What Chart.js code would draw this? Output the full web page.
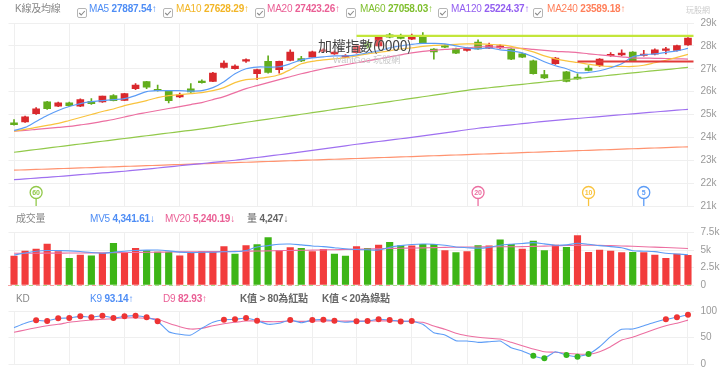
<!DOCTYPE html>
<html><head><meta charset="utf-8">
<script src="https://cdn.jsdelivr.net/npm/chart.js@4.4.1/dist/chart.umd.min.js"></script>
<style>
html,body{margin:0;padding:0;background:#fff}
body{width:720px;height:379px;position:relative;overflow:hidden;font-family:"Liberation Sans",Arial,"Noto Sans CJK TC",sans-serif}
canvas{position:absolute;left:0}
.t{position:absolute;font-size:10px;line-height:12px;white-space:nowrap;color:#888;z-index:5;letter-spacing:-0.2px}
.t b{font-weight:bold}
.cb{position:absolute;z-index:5}
#title{position:absolute;left:318px;top:35px;font-size:14px;color:#444;z-index:5;white-space:nowrap;font-family:"Noto Sans CJK TC","Liberation Sans",sans-serif;text-shadow:0 0 2px #fff;letter-spacing:-0.3px}
#sub{position:absolute;left:333px;top:53px;font-size:9px;color:#c8c8c8;z-index:5;white-space:nowrap}
#logo{position:absolute;left:686px;top:4px;font-size:8px;color:#ccc;z-index:5}
#sep{position:absolute;left:8px;top:285px;width:686px;height:1px;z-index:4;background:repeating-linear-gradient(90deg,#f7a0a0 0 4px,transparent 4px 7px,#a9dc8a 7px 11px,transparent 11px 14px)}
</style>
</head><body>
<canvas id="cp" width="720" height="219" style="top:0"></canvas>
<canvas id="cv" width="720" height="79" style="top:219px"></canvas>
<canvas id="ck" width="720" height="81" style="top:298px"></canvas>
<div id="sep"></div>
<div id="title">加權指數(0000)</div>
<div id="sub">WantGoo 玩股網</div>
<div id="logo">玩股網</div>
<div id="hdr"></div>
<script>
// ===== DATA =====
const labels = Array.from({length:62},(_,i)=>'D'+(i+1));
const open  = [24640,24680,25040,25550,25360,25510,25360,25580,25550,25830,25620,26130,26440,26100,26010,25770,26120,26450,26450,27060,27000,27330,26780,27320,26960,27360,27440,27510,27760,27650,27510,27700,28100,28000,28480,28450,28290,28380,27860,28010,27870,27800,28170,27900,27910,27860,27650,27350,26740,27220,26860,26640,27030,27130,27570,27600,27730,27580,27640,27800,27800,28040];
const high  = [24780,24930,25300,25580,25540,25540,25680,25700,25810,25870,25930,26350,26450,26290,26040,25940,26350,26520,26840,27350,27170,27430,26990,27560,27340,27830,27540,27770,27870,27780,27620,28050,28200,28440,28550,28520,28520,28580,27880,28060,27900,27930,28260,28120,28050,27880,27680,27380,26930,27500,26890,26780,27140,27450,27710,27830,27750,27800,27870,27940,28040,28360];
const low   = [24530,24650,25000,25220,25340,25350,25340,25440,25530,25590,25600,26090,26130,26020,25510,25740,25960,26370,26430,27030,26980,27280,26520,26810,26810,27340,27310,27490,27720,27630,27480,27680,27900,27980,28350,28300,28270,28120,27420,27920,27660,27770,27850,27880,27890,27400,27480,26760,26570,27190,26420,26530,26900,27100,27540,27570,27310,27550,27600,27650,27770,28020];
const close = [24550,24900,25250,25260,25510,25390,25650,25470,25800,25610,25910,26290,26200,26040,25610,25860,25990,26390,26810,27250,27120,27370,26960,26840,27320,27730,27340,27740,27800,27730,27580,28000,27950,28420,28380,28330,28400,28140,27740,27940,27680,27900,27870,28010,28000,27420,27510,26780,26600,27470,26450,26550,26930,27420,27620,27680,27340,27640,27830,27860,28010,28340];
const ma5   = [24304,24435,24696,24957,25174,25348,25478,25565,25609,25652,25696,25826,26000,26043,26043,26043,26022,26043,26174,26435,26783,27000,27074,27074,27087,27217,27391,27478,27522,27565,27565,27609,27696,27783,27913,28000,28065,28109,28109,28087,28000,27913,27870,27913,27826,27783,27696,27522,27304,27130,27000,26826,26839,26913,27043,27217,27522,27609,27652,27717,27783,27887];
const ma10  = [24274,24348,24435,24522,24609,24739,24870,25000,25130,25239,25391,25500,25609,25739,25826,25870,25913,25957,26043,26174,26391,26522,26565,26630,26739,26957,27217,27326,27391,27435,27478,27565,27652,27717,27783,27870,27913,27978,28022,28043,28065,28087,28087,28065,28043,27978,27870,27739,27565,27435,27348,27274,27196,27130,27100,27100,27100,27152,27261,27370,27500,27628];
const ma20  = [24274,24304,24348,24391,24435,24478,24543,24609,24696,24783,24891,25000,25087,25174,25261,25348,25435,25522,25652,25783,25957,26130,26261,26391,26522,26652,26783,26891,27000,27087,27174,27261,27348,27435,27522,27609,27696,27761,27804,27848,27870,27913,27957,27957,27935,27913,27891,27848,27804,27761,27739,27709,27652,27609,27565,27522,27478,27465,27457,27448,27435,27423];
const ma60  = [23350,23410,23470,23530,23590,23650,23710,23770,23830,23890,23950,24010,24070,24130,24190,24250,24310,24370,24440,24515,24590,24660,24730,24800,24870,24940,25010,25080,25150,25220,25290,25360,25425,25495,25565,25635,25705,25775,25845,25915,25985,26055,26120,26170,26220,26270,26320,26370,26420,26470,26520,26570,26620,26670,26720,26770,26820,26870,26920,26960,27010,27058];
const ma120 = [22150,22185,22220,22255,22290,22330,22368,22406,22444,22482,22520,22566,22614,22662,22710,22760,22808,22856,22904,22952,23000,23060,23120,23180,23240,23300,23366,23432,23500,23566,23632,23700,23760,23820,23880,23940,24000,24066,24133,24200,24266,24333,24400,24450,24500,24550,24600,24650,24700,24742,24784,24826,24868,24910,24950,24990,25030,25070,25110,25150,25190,25224];
const ma240 = [22565,22582,22598,22615,22631,22648,22664,22681,22697,22714,22730,22747,22763,22780,22796,22813,22829,22846,22862,22879,22895,22912,22928,22945,22961,22978,22994,23011,23027,23044,23060,23077,23094,23111,23128,23145,23162,23179,23196,23213,23230,23247,23264,23281,23298,23315,23332,23349,23366,23383,23400,23417,23434,23451,23468,23485,23502,23519,23536,23553,23570,23589];
const volume = [4160,4870,5160,5880,4780,3830,4300,4200,4540,5980,4690,5260,4920,4730,4730,4200,4540,4780,4780,5500,4450,5640,5780,6790,4920,5350,5260,4780,5120,4450,4160,5500,5260,5740,6120,5640,5600,5830,5830,4920,4640,4780,5640,5600,6460,5830,5160,6310,4920,5740,5400,7070,4690,5020,4880,4640,4690,4640,4300,3830,4450,4247];
const mv5  = [4300,4600,4850,4950,4930,4900,4800,4650,4550,4700,4850,4950,5000,5020,4900,4720,4650,4690,4700,4760,4780,4950,5450,5650,5850,5880,5750,5600,5500,5350,5200,5100,5050,5020,5400,5640,5800,5880,5850,5700,5450,5350,5270,5400,5700,5850,5950,6070,5900,5700,5750,5980,5850,5640,5500,5350,4920,4850,4780,4550,4450,4342];
const mv20 = [4550,4556,4562,4568,4574,4580,4594,4608,4622,4636,4650,4670,4690,4710,4730,4750,4764,4778,4792,4806,4820,4846,4872,4898,4924,4950,4978,5006,5034,5062,5090,5120,5156,5192,5228,5264,5300,5330,5360,5390,5420,5450,5460,5470,5480,5490,5500,5540,5580,5620,5660,5700,5720,5680,5640,5600,5550,5490,5430,5370,5310,5240];
const k9 = [68.7,77,82.5,81.2,86.3,86.9,90,88.2,91.2,86.9,90,91.2,88.2,80.7,61.2,56.3,55,67.5,78.8,83.7,84.4,86.9,81.8,75,77,83.1,78,83.1,83.7,81.8,78.8,80.7,81.2,84.4,83.1,80.5,81.2,75,59.3,55,44.3,43.7,41.2,42.4,43.7,31.2,25,16.1,11.2,23.6,17.4,14.3,19.3,33,51.8,65.7,66.2,72.4,79,84.4,88.2,93.14];
const d9 = [60,64.4,68.7,72.4,75,78.8,81.2,83.1,84.4,85.6,86.9,87.4,86.3,84.4,77,70.6,66.2,67.5,72.4,76.2,78.8,81.2,81.2,80,80,81.2,80.5,81,81.5,81.5,81,81,81.2,81.5,81.5,81,80,78.8,71.9,65.7,58.2,53.7,50.7,48.8,47.5,41.3,34.9,28.7,23.6,22.5,20.6,19.3,18.8,23.6,33,45.6,50.7,58.2,65.7,72.4,77,82.93];
const priceTicks = [21000,22000,23000,24000,25000,26000,27000,28000,29000];
const volTicks = [0,2500,5000,7500];
const kdTicks = [0,50,100];
const gridIdx = [0,5,10,15,22,27,31,36,41,46,51,56,61];
const levelValue = [28435, 27317];
const levelFrom = [31, 51];
const markerPeriod = [60, 20, 10, 5];
const markerIdx = [2, 42, 52, 57];
const maNames = ['MA5','MA10','MA20','MA60','MA120','MA240'];
const maValues = ['27887.54','27628.29','27423.26','27058.03','25224.37','23589.18'];

// ===== STYLE =====
const C = {ma5:'#5c9cf6', ma10:'#f9c33e', ma20:'#ec6fa1', ma60:'#92c94a', ma120:'#9f70f0', ma240:'#ff9370',
  up:'#d9282c', dn:'#62ad1c', vup:'#f23c3c', vdn:'#3db516', grid:'#efefef', tick:'#9a9a9a'};
const txtMA = ['#4e8df5','#f2b526','#ea5f95','#7fbf2e','#935ff0','#ff7f5a'];

const candleCol = close.map((c,i)=> c>=open[i]?C.up:C.dn);
const volCol = close.map((c,i)=> (i===0||c>=close[i-1])?C.vup:C.vdn);

const W_AXIS = 26.5;
function xAxis(){
  return {type:'category', offset:true, ticks:{display:false, autoSkip:false},
    grid:{offset:false, drawTicks:false, color:(ctx)=> gridIdx.includes(ctx.index)?C.grid:'rgba(0,0,0,0)'},
    border:{display:false}};
}
function yAxis(min,max,ticks,fmt){
  return {position:'right', min, max, afterFit:(s)=>{s.width=W_AXIS;},
    afterBuildTicks:(s)=>{s.ticks = ticks.map(v=>({value:v}));},
    ticks:{padding:7, color:C.tick, font:{size:10, family:'"Liberation Sans",Arial'}, callback:fmt},
    grid:{color:C.grid, drawTicks:false}, border:{display:false}};
}
const baseOpts = {responsive:false, animation:false, events:[],
  plugins:{legend:{display:false}, tooltip:{enabled:false}}};

function lineDS(data,color,w){return {type:'line',data,borderColor:color,borderWidth:w||1.2,pointRadius:0,tension:0.3,fill:false,order:0};}

const levelPlugin = {id:'levels', afterDatasetsDraw(chart){
  const {ctx, chartArea, scales:{x,y}} = chart;
  const cols = ['#c3e63a','#e23a3a'];
  levelValue.forEach((v,i)=>{
    const py = y.getPixelForValue(v), px = x.getPixelForValue(levelFrom[i]);
    ctx.save(); ctx.strokeStyle=cols[i]; ctx.lineWidth=2.2;
    ctx.beginPath(); ctx.moveTo(px,py); ctx.lineTo(chartArea.right,py); ctx.stroke(); ctx.restore();
  });
}};
const markerPlugin = {id:'markers', afterDatasetsDraw(chart){
  const {ctx, chartArea, scales:{x}} = chart;
  const cols = [C.ma60, C.ma20, C.ma10, C.ma5];
  markerPeriod.forEach((p,i)=>{
    const px = x.getPixelForValue(markerIdx[i]); const cy = chartArea.bottom-13.5, r=6;
    ctx.save(); ctx.strokeStyle=cols[i]; ctx.lineWidth=1.3;
    ctx.beginPath(); ctx.moveTo(px,cy+r); ctx.lineTo(px,chartArea.bottom); ctx.stroke();
    ctx.beginPath(); ctx.arc(px,cy,r,0,Math.PI*2); ctx.fillStyle='#fff'; ctx.fill(); ctx.stroke();
    ctx.fillStyle=cols[i]; ctx.font='bold 7px "Liberation Sans",Arial'; ctx.textAlign='center'; ctx.textBaseline='middle';
    ctx.fillText(String(p),px,cy+0.5); ctx.restore();
  });
}};

// price chart: plot area 23..206
new Chart(document.getElementById('cp'), {
  data:{labels, datasets:[
    lineDS(ma5,C.ma5), lineDS(ma10,C.ma10), lineDS(ma20,C.ma20), lineDS(ma60,C.ma60), lineDS(ma120,C.ma120), lineDS(ma240,C.ma240),
    {type:'bar', data:open.map((o,i)=>[o,close[i]]), backgroundColor:candleCol, barThickness:7, minBarLength:1.5, grouped:false, order:1},
    {type:'bar', data:low.map((l,i)=>[l,high[i]]), backgroundColor:candleCol, barThickness:1, grouped:false, order:2}
  ]},
  options:{...baseOpts, layout:{padding:{left:8.5, top:23, bottom:13, right:0}},
    scales:{x:xAxis(), y:yAxis(21000,29000,priceTicks,(v)=>(v/1000)+'k')}},
  plugins:[levelPlugin, markerPlugin]
});
// volume chart: plot area 232.7..285
new Chart(document.getElementById('cv'), {
  data:{labels, datasets:[
    lineDS(mv5,C.ma5,1.1), lineDS(mv20,C.ma20,1.1),
    {type:'bar', data:volume, backgroundColor:volCol, barThickness:6.5, grouped:false, order:1}
  ]},
  options:{...baseOpts, layout:{padding:{left:8.5, top:13.7, bottom:13, right:0}},
    scales:{x:xAxis(), y:yAxis(0,7500,volTicks,(v)=> v===0?'0':(v/1000)+'k')}}
});
// KD chart: plot area 311..364.3
new Chart(document.getElementById('ck'), {
  data:{labels, datasets:[
    {type:'line', data:k9, borderColor:C.ma5, borderWidth:1.1, tension:0.15, fill:false, order:0,
      pointRadius:k9.map(v=>(v>80||v<20)?3:0), pointBorderWidth:0,
      pointBackgroundColor:k9.map(v=>v>80?'#ee3434':'#35b51d')},
    {type:'line', data:d9, borderColor:C.ma20, borderWidth:1.1, tension:0.15, pointRadius:0, fill:false, order:1}
  ]},
  options:{...baseOpts, layout:{padding:{left:8.5, top:13, bottom:14.7, right:0}},
    scales:{x:xAxis(), y:yAxis(0,100,kdTicks,(v)=>String(v))}}
});

// ===== HEADERS =====
const hdr = document.getElementById('hdr');
function addText(x,y,html,color){const d=document.createElement('div');d.className='t';d.style.left=x+'px';d.style.top=(y-6)+'px';if(color)d.style.color=color;d.innerHTML=html;hdr.appendChild(d);}
function addCb(x,y){const d=document.createElement('div');d.className='cb';d.style.left=x+'px';d.style.top=(y-5)+'px';
  d.innerHTML='<svg width="10" height="10"><rect x="0.5" y="0.5" width="9" height="9" rx="1.5" fill="#fff" stroke="#b5b5b5"/><path d="M2.2 5 L4.2 7 L7.8 3" stroke="#8a8a8a" fill="none" stroke-width="1.1"/></svg>';hdr.appendChild(d);}
addText(15,9,'K線及均線','#888');
const cbX=[77,163,255,346,438,533], lbX=[89,176,267,360,451,547];
maNames.forEach((n,i)=>{addCb(cbX[i],9); addText(lbX[i],9, n+' <b>'+maValues[i]+'</b>↑', txtMA[i]);});
addText(16,219,'成交量','#888');
addText(90,219,'MV5 <b>4,341.61</b>↓',txtMA[0]);
addText(165,219,'MV20 <b>5,240.19</b>↓',txtMA[2]);
addText(247,219,'量 <b>4,247</b>↓','#666');
addText(16,299,'KD','#888');
addText(90,299,'K9 <b>93.14</b>↑',txtMA[0]);
addText(163,299,'D9 <b>82.93</b>↑',txtMA[2]);
addText(240,299,'<b>K值 &gt; 80為紅點</b>','#666');
addText(322,299,'<b>K值 &lt; 20為綠點</b>','#666');
</script>
</body></html>
